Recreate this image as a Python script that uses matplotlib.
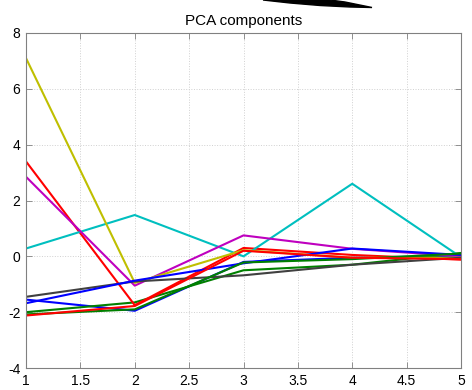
import numpy as np
import matplotlib
matplotlib.use("Agg")
import matplotlib.pyplot as plt
from matplotlib.patches import Polygon

# component index on the x axis
components = [1, 2, 3, 4, 5]

# one series per line, in MATLAB's default colour order
blue_1 = [-1.55, -1.95, -0.20, -0.05, 0.02]
green_1 = [-2.00, -1.65, -0.50, -0.30, 0.12]
red_1 = [3.40, -1.75, 0.30, 0.05, -0.12]
cyan_1 = [0.28, 1.48, 0.00, 2.60, -0.03]
magenta_1 = [2.85, -1.05, 0.75, 0.27, 0.00]
yellow_1 = [7.10, -0.95, 0.22, -0.05, -0.05]
gray_1 = [-1.45, -0.90, -0.68, -0.30, -0.05]
blue_2 = [-1.68, -0.87, -0.25, 0.28, 0.05]
green_2 = [-2.08, -1.90, -0.22, -0.10, 0.10]
red_2 = [-2.12, -1.78, 0.20, -0.05, -0.10]

series = [blue_1, green_1, red_1, cyan_1, magenta_1,
          yellow_1, gray_1, blue_2, green_2, red_2]

x_ticks = [1, 1.5, 2, 2.5, 3, 3.5, 4, 4.5, 5]
x_tick_labels = ["1", "1.5", "2", "2.5", "3", "3.5", "4", "4.5", "5"]
y_ticks = [-4, -2, 0, 2, 4, 6, 8]
y_tick_labels = ["-4", "-2", "0", "2", "4", "6", "8"]

colors = ["#0000ff", "#008000", "#ff0000", "#00bfbf", "#bf00bf",
          "#bfbf00", "#404040", "#0000ff", "#008000", "#ff0000"]

plt.rcParams["font.family"] = ["Liberation Sans", "DejaVu Sans"]

W, H = 472, 390
fig = plt.figure(figsize=(W / 100, H / 100), dpi=100)
ax = fig.add_axes([26 / W, 1 - 368 / H, (461 - 26) / W, (368 - 33) / H])

for vals, c in zip(series, colors):
    ax.plot(components, vals, color=c, linewidth=1.5)

ax.set_xlim(1, 5)
ax.set_ylim(-4, 8)
ax.set_xticks(x_ticks)
ax.set_xticklabels(x_tick_labels)
ax.set_yticks(y_ticks)
ax.set_yticklabels(y_tick_labels)
ax.grid(True, linestyle=":", color="#d0d0d0", linewidth=0.7)
ax.set_axisbelow(True)
ax.tick_params(direction="in", length=4, width=0.6, color="#808080",
               labelsize=10, top=True, right=True)
ax.tick_params(axis="x", pad=4)
ax.tick_params(axis="y", pad=4)
for sp in ax.spines.values():
    sp.set_color("#808080")
    sp.set_linewidth(0.8)

ax.set_title("PCA components", fontsize=11, pad=6)

# dark brush stroke at the top edge of the picture
stroke = np.array([[263, 0], [290, 3], [320, 5.5], [350, 7], [372, 7.5],
                   [345, 2], [330, 0]], dtype=float)
stroke[:, 0] /= W
stroke[:, 1] = 1 - stroke[:, 1] / H
fig.add_artist(Polygon(stroke, closed=True, color="black",
                       transform=fig.transFigure))

fig.savefig("out.png", dpi=100)
